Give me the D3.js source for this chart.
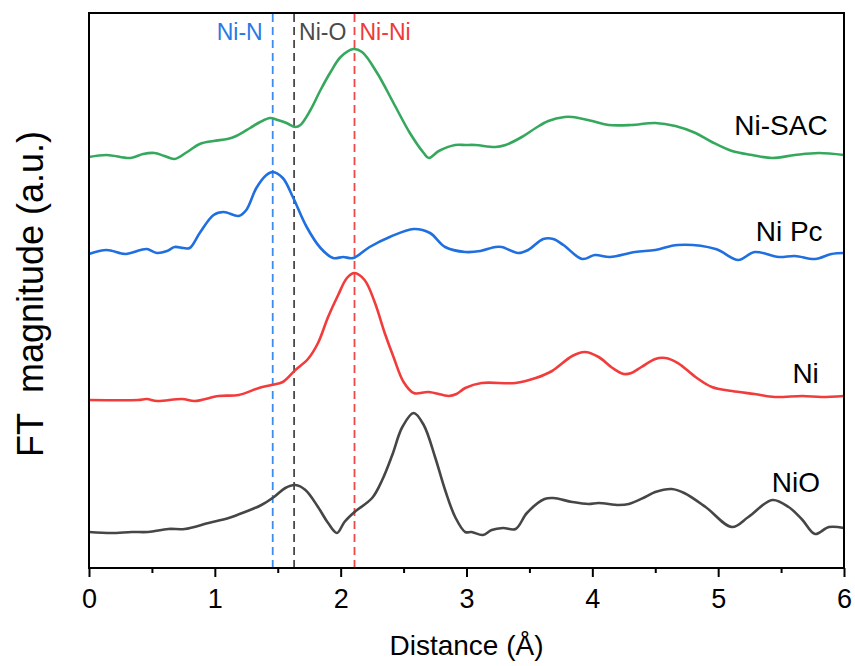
<!DOCTYPE html>
<html>
<head>
<meta charset="utf-8">
<script src="https://cdn.jsdelivr.net/npm/d3@7"></script>
<style>
  html, body { margin: 0; padding: 0; background: #fff; }
  svg { display: block; font-family: Arial, "Liberation Sans", Helvetica, sans-serif; }
</style>
</head>
<body>
<svg id="chart" width="855" height="666"></svg>
<script>
// FT-EXAFS curves, stacked with vertical offsets (arbitrary units)
const niSac = [[0,411],[0.14,413],[0.33,410],[0.43,414],[0.52,415],[0.6,412],[0.68,409],[0.78,416],[0.88,424],[0.99,427],[1.1,429],[1.17,432],[1.28,440],[1.36,446],[1.44,450],[1.5,448],[1.57,445],[1.64,441],[1.68,443],[1.76,458],[1.84,478],[1.92,496],[2.0,511],[2.1,519],[2.17,516],[2.29,495],[2.42,465],[2.55,435],[2.66,415],[2.7,410],[2.78,417],[2.91,423],[2.99,423],[3.07,423],[3.23,421],[3.31,423],[3.44,431],[3.55,440],[3.65,447],[3.78,451],[3.84,451],[4.0,447],[4.13,443],[4.31,443],[4.5,445],[4.66,442],[4.82,435],[4.95,426],[5.11,417],[5.27,413],[5.43,410],[5.61,413],[5.8,415],[6.0,413]];
const niPc = [[0,314],[0.14,318],[0.29,314],[0.41,318],[0.46,319],[0.54,315],[0.62,317],[0.68,321],[0.75,320],[0.8,320],[0.88,335],[0.99,353],[1.07,356],[1.19,352],[1.25,358],[1.33,380],[1.41,393],[1.46,396],[1.54,390],[1.62,371],[1.73,341],[1.84,320],[1.94,310],[2.02,311],[2.1,310],[2.23,321],[2.39,331],[2.58,339],[2.71,335],[2.83,321],[2.99,316],[3.11,317],[3.23,321],[3.28,321],[3.41,315],[3.49,318],[3.61,329],[3.69,329],[3.77,323],[3.92,309],[4.02,313],[4.14,311],[4.34,316],[4.5,318],[4.68,323],[4.98,319],[5.16,308],[5.29,316],[5.48,311],[5.61,312],[5.77,309],[5.9,314],[6.0,315]];
const niFoil = [[0,168],[0.39,168],[0.46,169],[0.54,167],[0.74,169],[0.84,167],[1.03,172],[1.19,173],[1.35,180],[1.45,183],[1.54,186],[1.64,198],[1.74,209],[1.82,225],[1.9,251],[1.98,273],[2.05,290],[2.11,295],[2.19,288],[2.27,266],[2.35,235],[2.42,211],[2.5,186],[2.58,175],[2.7,176],[2.86,172],[2.92,174],[2.99,180],[3.12,185],[3.39,185],[3.55,190],[3.68,197],[3.84,212],[3.94,216],[4.05,211],[4.16,200],[4.25,194],[4.31,195],[4.39,201],[4.5,209],[4.58,210],[4.68,205],[4.82,191],[4.95,181],[5.11,177],[5.29,174],[5.45,171],[5.67,172],[5.82,171],[6.0,172]];
const niO = [[0,36],[0.18,35],[0.34,36],[0.47,36],[0.63,39],[0.76,39],[0.95,45],[1.11,50],[1.24,56],[1.37,63],[1.47,71],[1.56,80],[1.64,83],[1.72,78],[1.82,61],[1.9,45],[1.97,35],[2.03,46],[2.11,56],[2.25,70],[2.33,88],[2.41,113],[2.49,141],[2.58,155],[2.66,143],[2.75,111],[2.83,78],[2.91,51],[2.99,36],[3.04,36],[3.13,33],[3.2,38],[3.29,40],[3.39,39],[3.48,55],[3.62,69],[3.69,70],[3.84,66],[3.97,64],[4.05,65],[4.21,63],[4.29,64],[4.42,71],[4.5,76],[4.63,79],[4.73,75],[4.9,61],[5.11,41],[5.24,51],[5.43,68],[5.56,61],[5.67,48],[5.77,34],[5.88,41],[6.0,40]];

const seriesNames = ['Ni-SAC', 'Ni Pc', 'Ni', 'NiO'];
const seriesData = [niSac, niPc, niFoil, niO];
const seriesColors = ['#36a85e', '#1f6fe0', '#f23c3c', '#464646'];
const seriesLabelY = [433, 327, 185, 76];   // label baseline, data units
const labelRight = [5.87, 5.83, 5.8, 5.81];

const refNames = ['Ni-N', 'Ni-O', 'Ni-Ni'];
const refPositions = [1.46, 1.63, 2.11];
const refLineColors = ['#3b8ced', '#4a4a4a', '#f04848'];
const refTextColors = ['#2a7ae4', '#4a4a4a', '#f03a3a'];

const xTicks = [0, 1, 2, 3, 4, 5, 6];
const xMinorTicks = [0.5, 1.5, 2.5, 3.5, 4.5, 5.5];

const margin = {left: 89, right: 11, top: 13, bottom: 98};
const W = 855, H = 666;
const svg = d3.select('#chart');

const x = d3.scaleLinear().domain([0, 6]).range([margin.left, W - margin.right]);
const y = d3.scaleLinear().domain([0, 555]).range([H - margin.bottom, margin.top]);

const line = d3.line().x(d => x(d[0])).y(d => y(d[1])).curve(d3.curveCatmullRom.alpha(0.5));

// reference dashed lines
svg.append('g').selectAll('line')
  .data(refPositions)
  .join('line')
  .attr('x1', d => x(d)).attr('x2', d => x(d))
  .attr('y1', y(0)).attr('y2', y(555))
  .attr('stroke', (d, i) => refLineColors[i])
  .attr('stroke-width', 1.8)
  .attr('stroke-dasharray', '8,5');

// curves
svg.append('g').selectAll('path')
  .data(seriesData)
  .join('path')
  .attr('d', line)
  .attr('fill', 'none')
  .attr('stroke', (d, i) => seriesColors[i])
  .attr('stroke-width', 2.6)
  .attr('stroke-linejoin', 'round');

// frame
svg.append('rect')
  .attr('x', x(0)).attr('y', y(555))
  .attr('width', x(6) - x(0)).attr('height', y(0) - y(555))
  .attr('fill', 'none').attr('stroke', '#000').attr('stroke-width', 2);

// bottom axis
const xAxis = svg.append('g')
  .attr('transform', `translate(0,${y(0)})`)
  .call(d3.axisBottom(x).tickValues(xTicks).tickFormat(d3.format('d')).tickSize(9).tickPadding(12));
xAxis.select('.domain').remove();
xAxis.selectAll('.tick line').attr('stroke', '#000').attr('stroke-width', 2);
xAxis.selectAll('.tick text').attr('font-size', 27).attr('fill', '#000').attr('font-family', 'Arial, "Liberation Sans", sans-serif');

const xMinor = svg.append('g')
  .attr('transform', `translate(0,${y(0)})`)
  .call(d3.axisBottom(x).tickValues(xMinorTicks).tickFormat('').tickSize(5));
xMinor.select('.domain').remove();
xMinor.selectAll('.tick line').attr('stroke', '#000').attr('stroke-width', 2);

// axis titles
svg.append('text')
  .attr('x', (x(0) + x(6)) / 2).attr('y', 655)
  .attr('text-anchor', 'middle').attr('font-size', 28).attr('fill', '#000')
  .text('Distance (Å)');

svg.append('text')
  .attr('transform', 'translate(43,294) rotate(-90)')
  .attr('text-anchor', 'middle').attr('font-size', 36).attr('fill', '#000')
  .text('FT\u00A0 magnitude (a.u.)');

// series labels
svg.append('g').selectAll('text')
  .data(seriesNames)
  .join('text')
  .attr('x', (d, i) => x(labelRight[i]))
  .attr('y', (d, i) => y(seriesLabelY[i]))
  .attr('text-anchor', 'end').attr('font-size', 28).attr('fill', '#000')
  .text(d => d);

// reference labels
const refAnchor = ['end', 'start', 'start'];
const refDx = [-10, 5, 5];
svg.append('g').selectAll('text')
  .data(refNames)
  .join('text')
  .attr('x', (d, i) => x(refPositions[i]) + refDx[i])
  .attr('y', 40)
  .attr('text-anchor', (d, i) => refAnchor[i])
  .attr('font-size', 23)
  .attr('fill', (d, i) => refTextColors[i])
  .text(d => d);
</script>
</body>
</html>
